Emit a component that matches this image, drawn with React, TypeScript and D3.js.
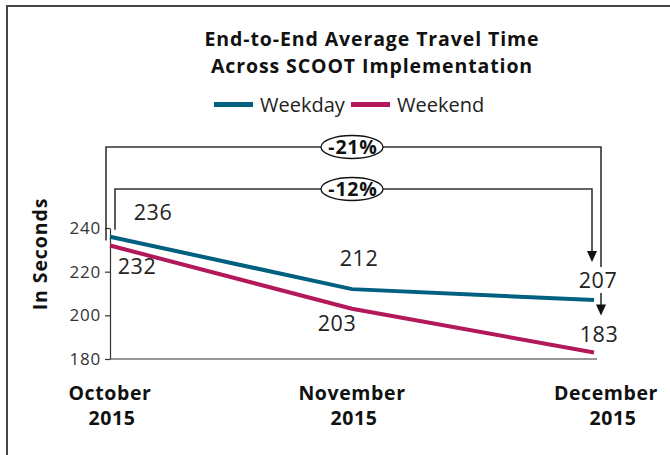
import React, {useEffect, useRef} from 'react';
import * as d3 from 'd3';

const months = ['October\n2015', 'November\n2015', 'December\n2015'];
const weekday = [236, 212, 207];
const weekend = [232, 203, 183];
const yTicks = [180, 200, 220, 240];
const changes = ['-21%', '-12%'];

const W = 670;
const H = 455;
const BLUE = '#00607f';
const RED = '#b3185a';
const INK = '#222';
const FONT = '"Open Sans", sans-serif';

// label nudges relative to the point (dx, dy)
const wdOffsets = [[43, -17], [7, -23], [4, -12]];
const weOffsets = [[27, 29], [-15, 22], [5, -10]];

const App = () => {
    const ref = useRef<SVGSVGElement>(null);

    useEffect(() => {
        const svg = d3.select(ref.current);
        svg.selectAll('*').remove();

        const x = d3.scalePoint().domain(months).range([110, 594]);
        const y = d3.scaleLinear().domain([180, 240]).range([359, 228]);

        // frame
        svg.append('path')
            .attr('d', `M7,${H}V6H${W}`)
            .attr('fill', 'none')
            .attr('stroke', '#444')
            .attr('stroke-width', 2);

        // title
        const title = svg.append('text')
            .attr('text-anchor', 'middle')
            .attr('font-family', FONT)
            .attr('font-weight', 700)
            .attr('font-size', 19.5)
            .attr('letter-spacing', 0.9)
            .attr('fill', '#111');
        title.append('tspan').attr('x', 372).attr('y', 46).text('End-to-End Average Travel Time');
        title.append('tspan').attr('x', 372).attr('y', 73).text('Across SCOOT Implementation');

        // legend
        const legend = [{name: 'Weekday', color: BLUE, x: 214}, {name: 'Weekend', color: RED, x: 351}];
        const lg = svg.append('g');
        legend.forEach(d => {
            lg.append('rect').attr('x', d.x).attr('y', 102).attr('width', 39).attr('height', 5).attr('fill', d.color);
            lg.append('text').attr('x', d.x + 46).attr('y', 112)
                .attr('font-family', FONT).attr('font-size', 20).attr('fill', INK).text(d.name);
        });

        // axes
        const yAxis = svg.append('g')
            .attr('transform', 'translate(110,0)')
            .call(d3.axisLeft(y).tickValues(yTicks).tickSize(5).tickSizeOuter(0).tickPadding(4));
        yAxis.select('.domain').attr('stroke', '#333').attr('stroke-width', 1.2);
        yAxis.selectAll('.tick line').attr('stroke', '#333').attr('stroke-width', 1.2);
        yAxis.selectAll('.tick text')
            .attr('font-family', FONT).attr('font-size', 17).attr('letter-spacing', 0.8).attr('fill', '#333');

        svg.append('line')
            .attr('x1', 110).attr('x2', (x(months[2]) as number) + 3)
            .attr('y1', y(180)).attr('y2', y(180))
            .attr('stroke', '#333').attr('stroke-width', 1.2);

        svg.append('text')
            .attr('transform', `translate(47,254) rotate(-90)`)
            .attr('text-anchor', 'middle')
            .attr('font-family', FONT).attr('font-weight', 700).attr('font-size', 19.5)
            .attr('letter-spacing', 0.9)
            .attr('fill', '#111')
            .text('In Seconds');

        // month labels
        months.forEach((m, i) => {
            const [a, b] = m.split('\n');
            const cx = (x(m) as number) + (i === 2 ? 12 : 0);
            const t = svg.append('text').attr('text-anchor', 'middle')
                .attr('font-family', FONT).attr('font-weight', 700).attr('font-size', 19.5)
                .attr('letter-spacing', 0.6).attr('fill', '#111');
            t.append('tspan').attr('x', cx).attr('y', 400).text(a);
            t.append('tspan').attr('x', cx + (i === 2 ? 7 : 2)).attr('y', 425).text(b);
        });

        // lines
        const line = d3.line<number>()
            .x((d, i) => x(months[i]) as number)
            .y(d => y(d));

        [[weekday, BLUE], [weekend, RED]].forEach(([vals, color]) => {
            svg.append('path')
                .datum(vals as number[])
                .attr('d', line)
                .attr('fill', 'none')
                .attr('stroke', color as string)
                .attr('stroke-width', 4);
        });

        // value labels
        const addLabels = (vals: number[], offs: number[][]) => {
            vals.forEach((v, i) => {
                svg.append('text')
                    .attr('x', (x(months[i]) as number) + offs[i][0])
                    .attr('y', y(v) + offs[i][1])
                    .attr('text-anchor', 'middle')
                    .attr('font-family', FONT).attr('font-size', 21.5).attr('letter-spacing', 0.6)
                    .attr('fill', INK)
                    .text(v);
            });
        };
        addLabels(weekday, wdOffsets);
        addLabels(weekend, weOffsets);

        // change brackets
        const x0 = x(months[0]) as number;
        const x2 = x(months[2]) as number;
        const arrow = (ax: number, tipY: number) => {
            svg.append('path')
                .attr('d', `M${ax - 5},${tipY - 11}L${ax + 5},${tipY - 11}L${ax},${tipY}Z`)
                .attr('fill', '#111');
        };
        const bracketStroke = (d: string) => svg.append('path').attr('d', d)
            .attr('fill', 'none').attr('stroke', '#333').attr('stroke-width', 1.6);

        // outer: weekend change
        const oy = 147;
        bracketStroke(`M${x0 - 4},${y(weekend[0]) - 5}V${oy}H${x2 + 7}V${y(weekday[2]) - 33}`);
        bracketStroke(`M${x2 + 7},${y(weekday[2]) - 7}V${y(weekend[2]) - 44}`);
        arrow(x2 + 7, y(weekend[2]) - 37);

        // inner: weekday change
        const iy = 189;
        bracketStroke(`M${x0 + 5},${y(weekday[0]) - 7}V${iy}H${x2 - 2}V${y(weekday[2]) - 45}`);
        arrow(x2 - 2, y(weekday[2]) - 38);

        const cx = (x(months[1]) as number);
        [[changes[0], oy], [changes[1], iy]].forEach(([txt, yy]) => {
            svg.append('ellipse')
                .attr('cx', cx).attr('cy', yy as number)
                .attr('rx', 31).attr('ry', 11.5)
                .attr('fill', '#fff').attr('stroke', '#111').attr('stroke-width', 1.3);
            svg.append('text')
                .attr('x', cx + 1).attr('y', (yy as number) + 7)
                .attr('text-anchor', 'middle')
                .attr('font-family', FONT).attr('font-weight', 700).attr('font-size', 19.5)
                .attr('letter-spacing', 0.8)
                .attr('fill', '#111')
                .text(txt as string);
        });
    }, []);

    return <svg ref={ref} width={W} height={H} style={{position: 'absolute', left: 0, top: 0}}/>;
};

export default App;
